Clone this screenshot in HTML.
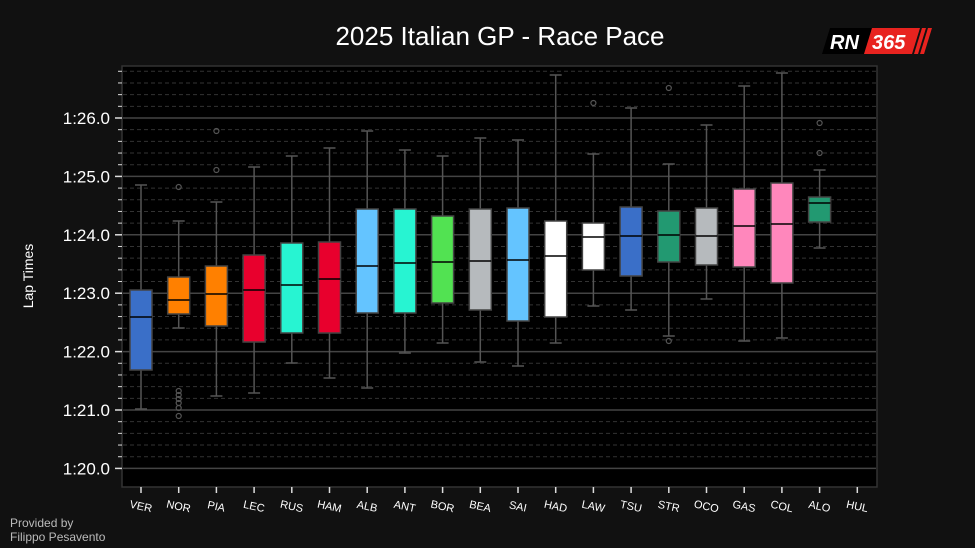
<!DOCTYPE html>
<html><head><meta charset="utf-8"><style>
html,body{margin:0;padding:0;background:#111;}
svg{display:block;font-family:"Liberation Sans",sans-serif;}
</style></head><body>
<svg width="975" height="548" viewBox="0 0 975 548" xmlns="http://www.w3.org/2000/svg">
<rect width="975" height="548" fill="#111"/>
<text x="500" y="45" fill="#fff" font-size="26" text-anchor="middle">2025 Italian GP - Race Pace</text>
<g transform="translate(822,28)">
<polygon points="8,0 50,0 42,26 0,26" fill="#000"/>
<polygon points="50,0 98,0 90,26 42,26" fill="#e8231f"/>
<polygon points="100,0 104,0 96,26 92,26" fill="#e8231f"/>
<polygon points="106,0 110,0 102,26 98,26" fill="#e8231f"/>
<text x="8" y="21" fill="#fff" font-size="20" font-weight="bold" font-style="italic">RN</text>
<text x="50" y="21" fill="#fff" font-size="20" font-weight="bold" font-style="italic">365</text>
</g>
<rect x="122" y="66" width="755" height="421" fill="#000" stroke="#333" stroke-width="1.5"/>
<g id="grid"></g>
<text x="33" y="276" fill="#fff" font-size="14" text-anchor="middle" transform="rotate(-90 33 276)">Lap Times</text>
<text x="10" y="527" fill="#bbb" font-size="12">Provided by</text>
<text x="10" y="541" fill="#bbb" font-size="12">Filippo Pesavento</text>
<g id="boxes"></g>
</svg>
<script>
const ns="http://www.w3.org/2000/svg";
function el(p,t,a,txt){const e=document.createElementNS(ns,t);for(const k in a)e.setAttribute(k,a[k]);if(txt)e.textContent=txt;p.appendChild(e);return e;}
const g=document.getElementById('grid');
for(let i=0;i<36;i++){const y=468.4-i*11.68; if(y<67)break;
 const major=i%5==0;
 el(g,'line',{x1:123,x2:876,y1:y,y2:y,stroke:major?'#444':'#333','stroke-width':major?1.5:1,'stroke-dasharray':major?'':'4,3'});
 el(g,'line',{x1:major?115:118,x2:122,y1:y,y2:y,stroke:'#ddd','stroke-width':major?1.5:1});
 if(major) el(g,'text',{x:110,y:y+6,fill:'#fff','font-size':17,'text-anchor':'end'},'1:'+(20+i/5)+'.0');
}
const d=[
['VER','#3a6fc8',185,290,317,370,409,[]],
['NOR','#ff8000',221,277,300,314,328,[187,391,395,399,403,408,416]],
['PIA','#ff8000',202,266,294,326,396,[131,170]],
['LEC','#e8002d',167,255,290,342,393,[]],
['RUS','#27f4d2',156,243,285,333,363,[]],
['HAM','#e8002d',148,242,279,333,378,[]],
['ALB','#64c4ff',131,209,266,313,388,[]],
['ANT','#27f4d2',150,209,263,313,353,[]],
['BOR','#52e252',156,216,262,303,343,[]],
['BEA','#b6babd',138,209,261,310,362,[]],
['SAI','#64c4ff',140,208,260,321,366,[]],
['HAD','#ffffff',75,221,256,317,343,[]],
['LAW','#ffffff',154,223,237,270,306,[103]],
['TSU','#3a6fc8',108,207,236,276,310,[]],
['STR','#229971',164,211,235,262,336,[88,341]],
['OCO','#b6babd',125,208,236,265,299,[]],
['GAS','#ff87bc',86,189,226,267,341,[]],
['COL','#ff87bc',73,183,224,283,338,[]],
['ALO','#229971',170,197,203,222,248,[123,153]],
['HUL',null]];
const b=document.getElementById('boxes');
d.forEach((r,i)=>{const x=141+i*37.7;
 el(b,'line',{x1:x,x2:x,y1:487,y2:493,stroke:'#ddd','stroke-width':1.5});
 el(b,'text',{x:x,y:510,fill:'#fff','font-size':11,'text-anchor':'middle',transform:`rotate(12 ${x} 506)`},r[0]);
 if(!r[1])return;
 const [n,c,t,q3,m,q1,bo,o]=r;
 el(b,'line',{x1:x,x2:x,y1:t,y2:q3,stroke:'#555','stroke-width':1.5});
 el(b,'line',{x1:x,x2:x,y1:q1,y2:bo,stroke:'#555','stroke-width':1.5});
 el(b,'line',{x1:x-6,x2:x+6,y1:t,y2:t,stroke:'#555','stroke-width':1.5});
 el(b,'line',{x1:x-6,x2:x+6,y1:bo,y2:bo,stroke:'#555','stroke-width':1.5});
 el(b,'rect',{x:x-11,y:q3,width:22,height:q1-q3,fill:c,stroke:'#444','stroke-width':1.5});
 el(b,'line',{x1:x-11,x2:x+11,y1:m,y2:m,stroke:'#000','stroke-width':1.5});
 o.forEach(y=>el(b,'circle',{cx:x,cy:y,r:2.5,fill:'none',stroke:'#555','stroke-width':1.2}));
});
</script>
</body></html>
